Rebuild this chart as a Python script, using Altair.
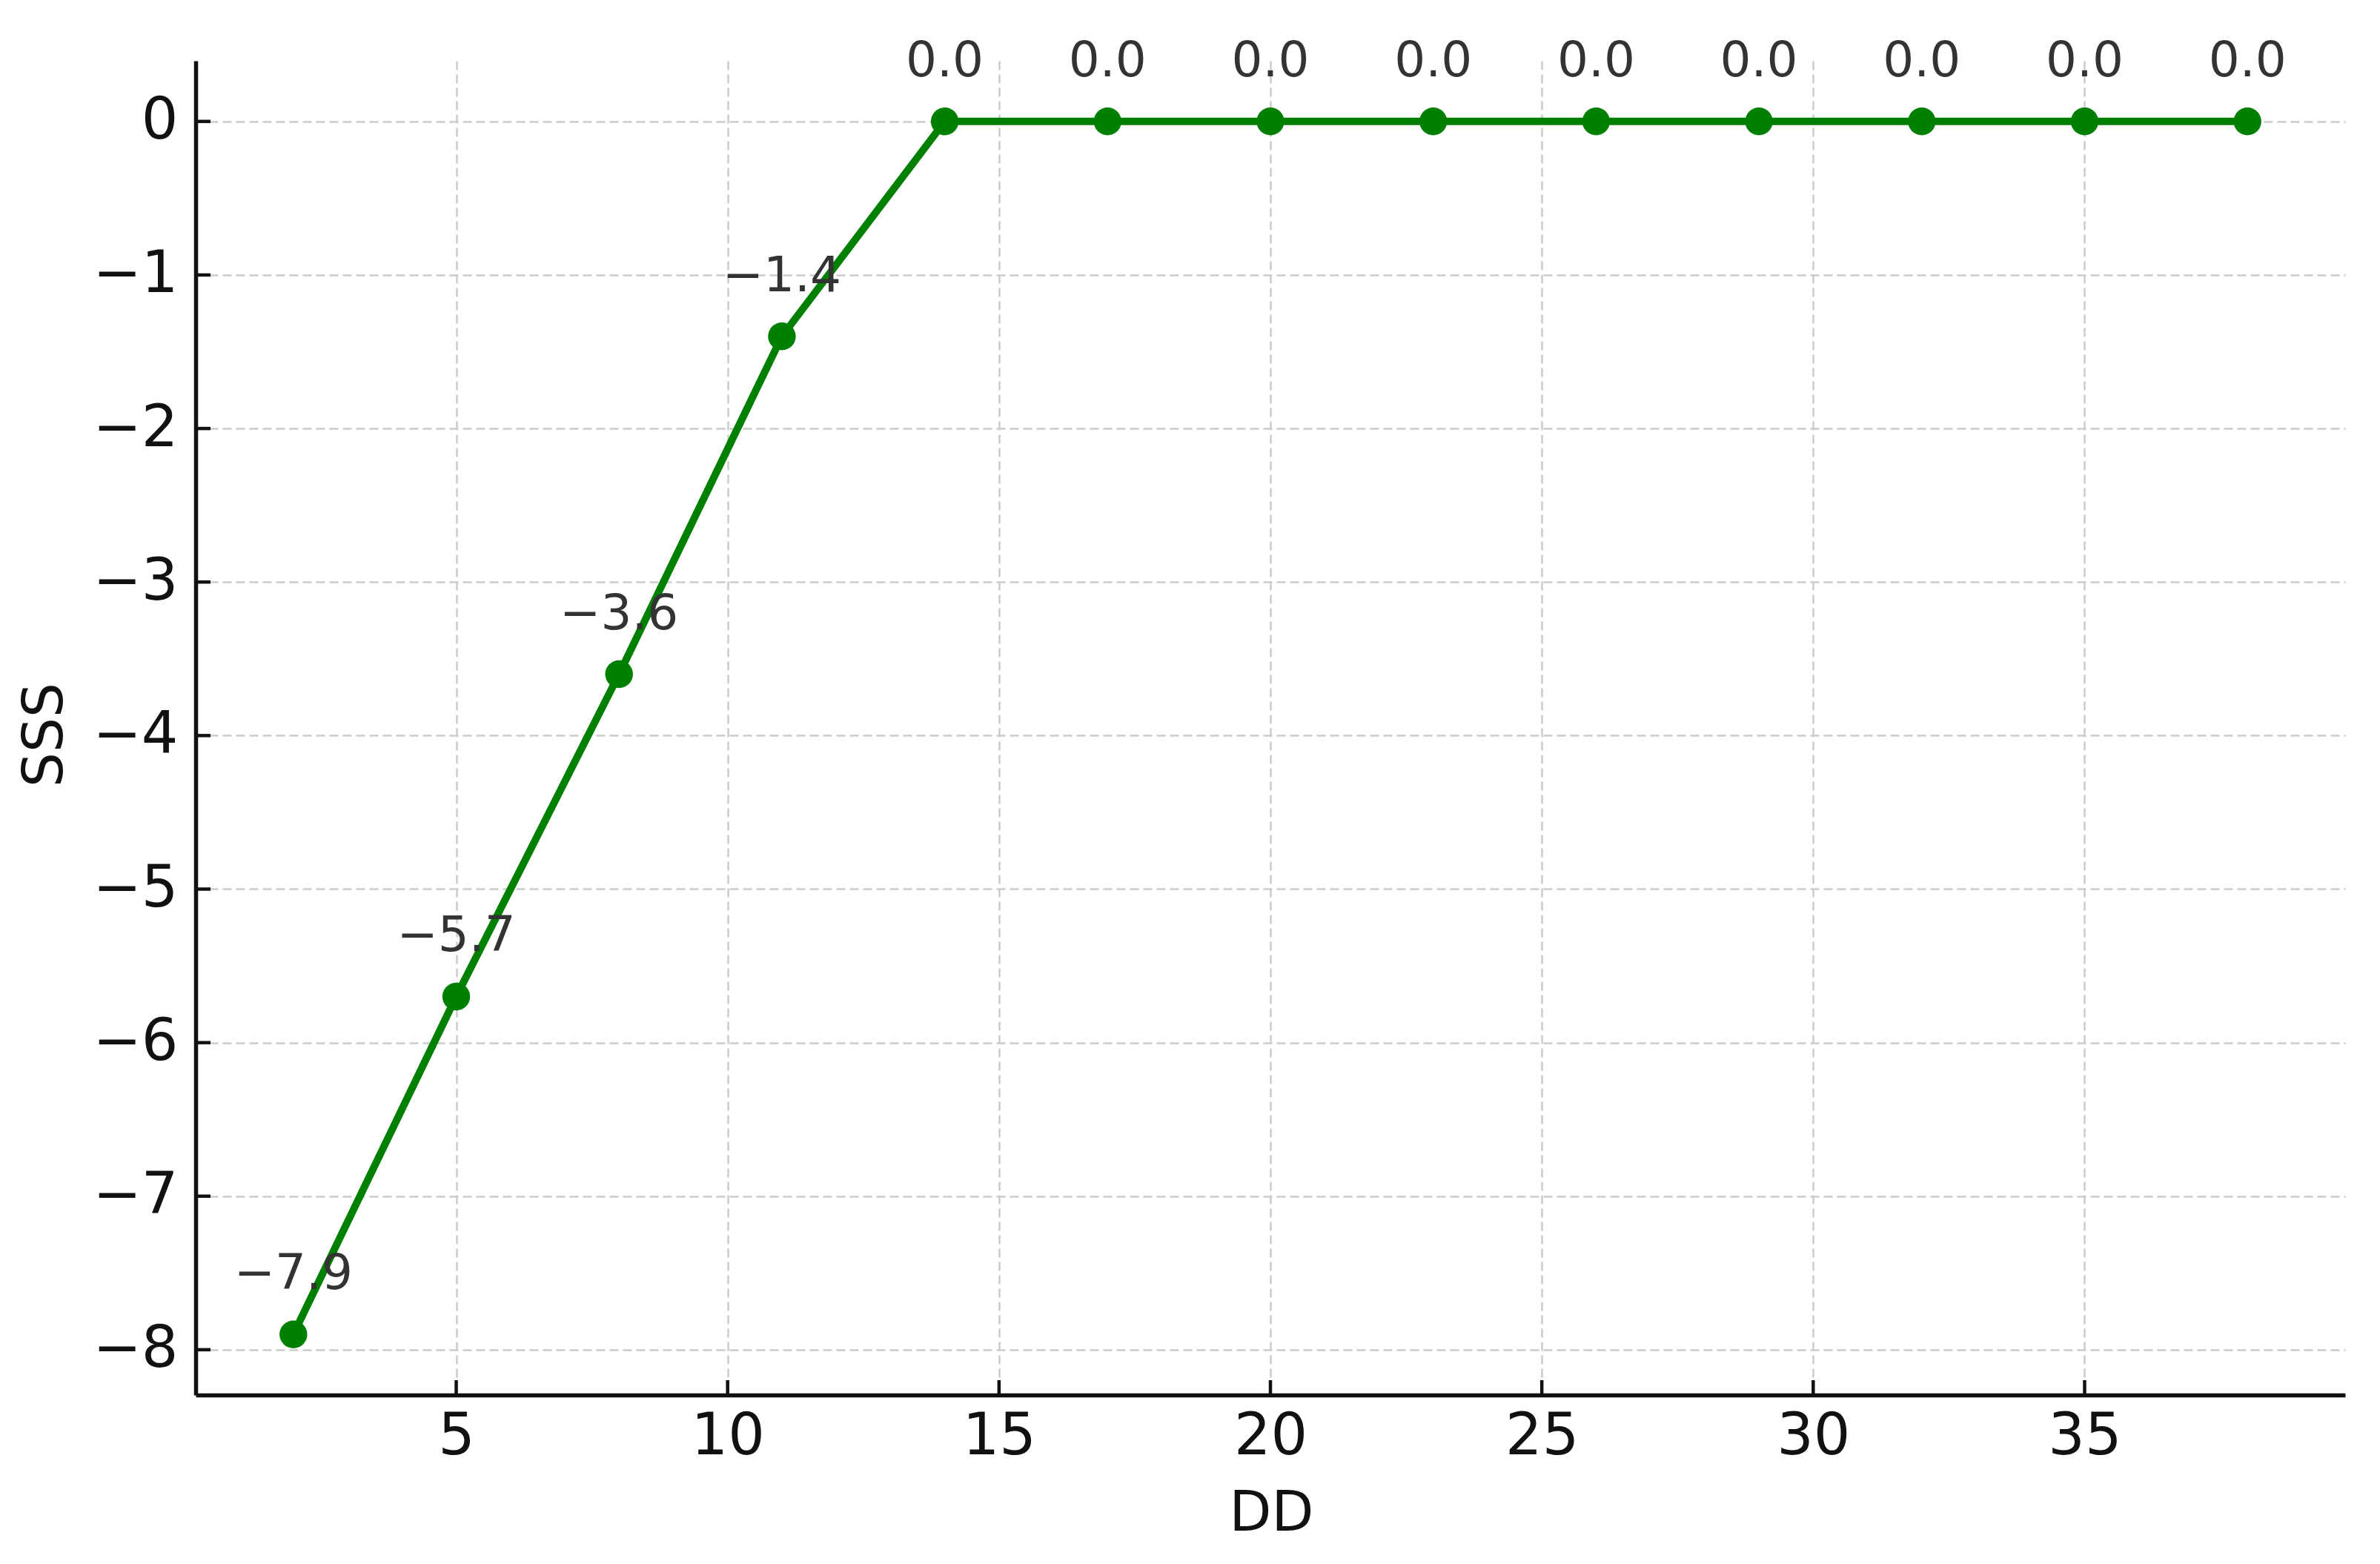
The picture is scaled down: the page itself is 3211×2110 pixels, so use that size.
import altair as alt
import pandas as pd

# Data
dd_values = [2, 5, 8, 11, 14, 17, 20, 23, 26, 29, 32, 35, 38]
sss_values = [-7.9, -5.7, -3.6, -1.4, 0.0, 0.0, 0.0, 0.0, 0.0, 0.0, 0.0, 0.0, 0.0]
x_ticks = [5, 10, 15, 20, 25, 30, 35]
y_ticks = [0, -1, -2, -3, -4, -5, -6, -7, -8]

W, H = 2900, 1800
FONT = "DejaVu Sans"
GREEN = "#008000"

df = pd.DataFrame({"DD": dd_values, "SSS": sss_values})
df["label"] = [f"{v:.1f}".replace("-", "\u2212") for v in sss_values]

xscale = alt.Scale(domain=[0.2, 39.8], nice=False, zero=False)
yscale = alt.Scale(domain=[-8.295, 0.395], nice=False, zero=False)

grid_style = dict(grid=True, gridColor="#cccccc", gridWidth=2.5, gridDash=[12, 6])

xaxis = alt.Axis(
    values=x_ticks, title="DD", format="d", ticks=False, tickSize=0,
    labelPadding=17, labelFontSize=78, labelFont=FONT, labelColor="#111111", labelLimit=1000,
    domainColor="#111111", domainWidth=5.5,
    titleFontSize=74, titleFont=FONT, titleFontWeight="normal", titleColor="#111111",
    titleX=1451, titleY=160, titleBaseline="middle", titleAlign="center", titleLimit=2000,
    labelFlush=False, **grid_style,
)
yaxis = alt.Axis(
    values=y_ticks, title="SSS", format="d", ticks=False, tickSize=0,
    labelPadding=24, labelFontSize=78, labelFont=FONT, labelColor="#111111", labelLimit=1000,
    domainColor="#111111", domainWidth=5.5,
    titleFontSize=74, titleFont=FONT, titleFontWeight="normal", titleColor="#111111",
    titleX=-203, titleY=909, titleBaseline="middle", titleAlign="center", titleAngle=270,
    titleLimit=2000, labelFlush=False, **grid_style,
)

base = alt.Chart(df)

line = base.mark_line(color=GREEN, strokeWidth=10).encode(
    x=alt.X("DD:Q", scale=xscale, axis=xaxis),
    y=alt.Y("SSS:Q", scale=yscale, axis=yaxis),
)
points = base.mark_circle(color=GREEN, opacity=1, size=1400).encode(
    x=alt.X("DD:Q", scale=xscale),
    y=alt.Y("SSS:Q", scale=yscale),
)
labels = base.mark_text(
    font=FONT, fontSize=66, color="#333333", baseline="alphabetic", align="center", dy=-61
).encode(
    x=alt.X("DD:Q", scale=xscale),
    y=alt.Y("SSS:Q", scale=yscale),
    text="label:N",
)

xt = alt.Chart(pd.DataFrame({"t": x_ticks})).mark_rule(color="#111111", strokeWidth=4.5).encode(
    x=alt.X("t:Q", scale=xscale),
    y=alt.value(H),
    y2=alt.value(H - 20),
)
yt = alt.Chart(pd.DataFrame({"t": y_ticks})).mark_rule(color="#111111", strokeWidth=4.5).encode(
    y=alt.Y("t:Q", scale=yscale),
    x=alt.value(0),
    x2=alt.value(20),
)

chart = alt.layer(line, points, labels, xt, yt).properties(
    width=W,
    height=H,
    padding={"left": 256, "top": 74, "right": 30, "bottom": 218},
    autosize=alt.AutoSizeParams(type="none"),
    background="white",
).configure_view(stroke=None)

chart.save("out.html", embed_options={"renderer": "svg", "actions": False})
